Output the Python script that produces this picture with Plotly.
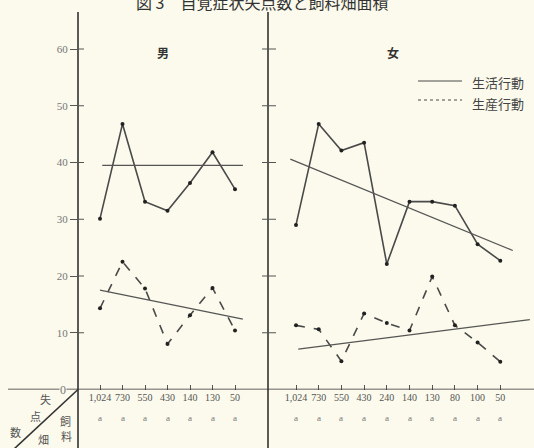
import plotly.graph_objects as go

# ---- data ----
male_labels = ["1,024", "730", "550", "430", "140", "130", "50"]
female_labels = ["1,024", "730", "550", "430", "240", "140", "130", "80", "100", "50"]
unit_label = "a"

male_life = [30.1, 46.8, 33.1, 31.5, 36.4, 41.8, 35.3]
male_prod = [14.3, 22.5, 17.8, 8.0, 13.1, 17.9, 10.4]
female_life = [29.0, 46.8, 42.1, 43.5, 22.1, 33.1, 33.1, 32.4, 25.6, 22.7]
female_prod = [11.3, 10.6, 5.0, 13.4, 11.7, 10.4, 19.9, 11.3, 8.3, 4.9]

# regression lines (index position, value)
male_life_trend_x = [0.1, 6.35]
male_life_trend_y = [39.5, 39.5]
male_prod_trend_x = [0.0, 6.35]
male_prod_trend_y = [17.5, 12.4]
female_life_trend_x = [-0.25, 9.55]
female_life_trend_y = [40.6, 24.5]
female_prod_trend_x = [0.1, 10.3]
female_prod_trend_y = [7.1, 12.3]

y_ticks = [10, 20, 30, 40, 50, 60]

title = "図 3　自覚症状失点数と飼料畑面積"
legend_life = "生活行動"
legend_prod = "生産行動"

# ---- layout geometry ----
W, H = 534, 448
BG = "#fbfaec"
LINE = "#4a4a4a"
TREND = "#555555"
SERIF = "Liberation Serif, DejaVu Serif, serif"
CJK = "Noto Sans CJK JP, Noto Sans CJK SC, sans-serif"

y0_px = 389.5
px_per_unit = 5.675
x_left_px, x_mid_px = 78, 268
male_x0, male_step = 100, 22.5
female_x0, female_step = 296, 22.7

def px(x):
    return x / W

def py(y):
    return 1 - y / H

fig = go.Figure()

def add_series(xa, ya, vals, dash):
    fig.add_trace(go.Scatter(
        x=list(range(len(vals))), y=vals, xaxis=xa, yaxis=ya,
        mode="lines+markers",
        line=dict(color=LINE, width=1.6, dash=dash),
        marker=dict(color="#222222", size=4),
        showlegend=False, hoverinfo="skip"))

def add_trend(xa, ya, xs, ys):
    fig.add_trace(go.Scatter(
        x=xs, y=ys, xaxis=xa, yaxis=ya, mode="lines",
        line=dict(color=TREND, width=1.2),
        showlegend=False, hoverinfo="skip"))

add_series("x", "y", male_life, "solid")
add_series("x", "y", male_prod, "dash")
add_trend("x", "y", male_life_trend_x, male_life_trend_y)
add_trend("x", "y", male_prod_trend_x, male_prod_trend_y)
add_series("x2", "y2", female_life, "solid")
add_series("x2", "y2", female_prod, "dash")
add_trend("x2", "y2", female_life_trend_x, female_life_trend_y)
add_trend("x2", "y2", female_prod_trend_x, female_prod_trend_y)

y_range = [0, y0_px / px_per_unit]
y_domain = [(H - y0_px) / H, 1]

xaxis_common = dict(
    showgrid=False, zeroline=False, showline=False,
    ticks="inside", ticklen=5, tickcolor="#555", tickwidth=1,
    tickfont=dict(family=SERIF, size=10, color="#555"),
)

fig.update_layout(
    width=W, height=H,
    margin=dict(l=0, r=0, t=0, b=0),
    paper_bgcolor=BG, plot_bgcolor=BG,
    xaxis=dict(domain=[px(x_left_px), px(x_mid_px)],
               range=[(x_left_px - male_x0) / male_step, (x_mid_px - male_x0) / male_step],
               tickmode="array", tickvals=list(range(len(male_labels))),
               ticktext=male_labels, anchor="y", **xaxis_common),
    xaxis2=dict(domain=[px(x_mid_px), 1],
                range=[(x_mid_px - female_x0) / female_step, (W - female_x0) / female_step],
                tickmode="array", tickvals=list(range(len(female_labels))),
                ticktext=female_labels, anchor="y2", **xaxis_common),
    yaxis=dict(domain=y_domain, range=y_range, anchor="x",
               showgrid=False, zeroline=False, showline=False,
               tickmode="array", tickvals=y_ticks,
               ticks="outside", ticklen=7, tickcolor="#555", tickwidth=1,
               tickfont=dict(family=SERIF, size=11, color="#777")),
    yaxis2=dict(domain=y_domain, range=y_range, anchor="x2", matches="y",
                showgrid=False, zeroline=False, showline=False,
                showticklabels=False, ticks=""),
)

shapes = []
# axis lines
shapes.append(dict(type="line", xref="paper", yref="paper",
                   x0=px(x_left_px), x1=px(x_left_px), y0=0, y1=py(12),
                   line=dict(color="#333", width=1.6)))
shapes.append(dict(type="line", xref="paper", yref="paper",
                   x0=px(x_mid_px), x1=px(x_mid_px), y0=0, y1=py(12),
                   line=dict(color="#333", width=1.6)))
shapes.append(dict(type="line", xref="paper", yref="y",
                   x0=px(8), x1=1, y0=0, y1=0,
                   line=dict(color="#333", width=1.6)))
# tick marks crossing the axes
for v in y_ticks:
    shapes.append(dict(type="line", xref="paper", yref="y",
                       x0=px(x_left_px), x1=px(x_left_px + 6), y0=v, y1=v,
                       line=dict(color="#555", width=1)))
    shapes.append(dict(type="line", xref="paper", yref="y",
                       x0=px(x_mid_px - 6), x1=px(x_mid_px + 8), y0=v, y1=v,
                       line=dict(color="#555", width=1)))
# corner diagonal
shapes.append(dict(type="line", xref="paper", yref="paper",
                   x0=px(x_left_px), y0=py(y0_px), x1=px(14), y1=py(449),
                   line=dict(color="#333", width=1.6)))
# legend samples
shapes.append(dict(type="line", xref="paper", yref="paper",
                   x0=px(418), x1=px(462), y0=py(81), y1=py(81),
                   line=dict(color=LINE, width=1.2)))
shapes.append(dict(type="line", xref="paper", yref="paper",
                   x0=px(418), x1=px(462), y0=py(100), y1=py(100),
                   line=dict(color=LINE, width=1.2, dash="dot")))
fig.update_layout(shapes=shapes)

ann = []
def txt(text, x, y, size, color, family=CJK, xref="paper", xanchor="center", **kw):
    ann.append(dict(text=text, xref=xref, yref="paper", x=x, y=py(y),
                    xanchor=xanchor, yanchor="middle", showarrow=False,
                    font=dict(family=family, size=size, color=color), **kw))

txt(title, px(262), 2, 16, "#333")
txt("<b>男</b>", px(163), 52, 12, "#333")
txt("<b>女</b>", px(393), 52, 12, "#333")
txt(legend_life, px(470), 82, 13, "#444", xanchor="left")
txt(legend_prod, px(470), 103, 13, "#444", xanchor="left")
txt("0", px(67), y0_px, 12, "#777", family=SERIF, xanchor="right",
    bgcolor=BG, borderpad=0)
# unit row
for i in range(len(male_labels)):
    txt(unit_label, i, 418, 9, "#777", family=SERIF, xref="x")
for i in range(len(female_labels)):
    txt(unit_label, i, 418, 9, "#777", family=SERIF, xref="x2")
# corner labels
for ch, (cx, cy) in zip("失点数", [(45, 399), (35, 416), (15, 432)]):
    txt(ch, px(cx), cy, 11, "#555")
for ch, (cx, cy) in zip("飼料畑", [(65, 421), (66, 436), (43, 439)]):
    txt(ch, px(cx), cy, 11, "#555")
fig.update_layout(annotations=ann)

fig.write_html("out.html",
               config={"displayModeBar": False},
               post_script="document.body.style.margin='0';document.body.style.overflow='hidden';")
